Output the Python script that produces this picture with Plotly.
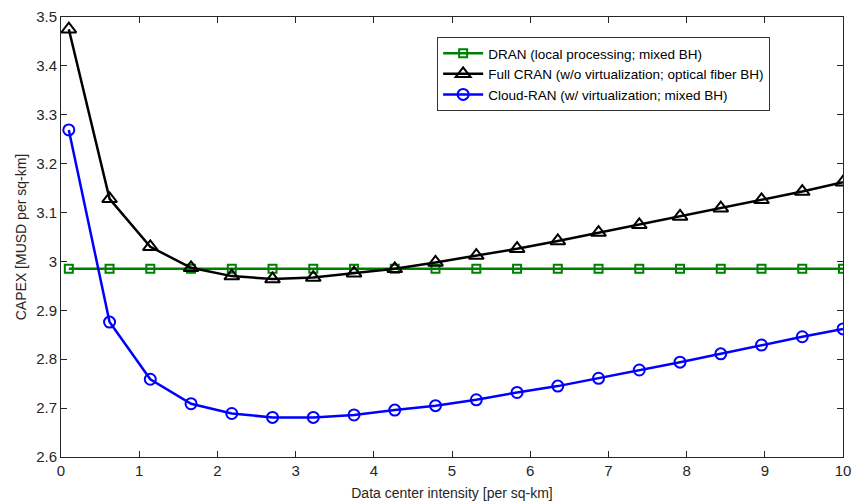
import plotly.graph_objects as go

x_vals = [0.1, 0.621, 1.142, 1.663, 2.184, 2.705, 3.226, 3.747, 4.268, 4.789,
          5.311, 5.832, 6.353, 6.874, 7.395, 7.916, 8.437, 8.958, 9.479, 10.0]

dran = [2.985] * 20
full_cran = [3.475, 3.128, 3.030, 2.987, 2.970, 2.964, 2.967, 2.976, 2.985, 2.998,
             3.012, 3.026, 3.042, 3.059, 3.075, 3.092, 3.109, 3.126, 3.143, 3.162]
cloud_ran = [3.269, 2.876, 2.759, 2.709, 2.689, 2.681, 2.681, 2.686, 2.696, 2.705,
             2.717, 2.732, 2.745, 2.761, 2.778, 2.794, 2.811, 2.829, 2.846, 2.862]

names = ["DRAN (local processing; mixed BH)",
         "Full CRAN (w/o virtualization; optical fiber BH)",
         "Cloud-RAN (w/ virtualization; mixed BH)"]

x_ticks = [0, 1, 2, 3, 4, 5, 6, 7, 8, 9, 10]
y_ticks = [2.6, 2.7, 2.8, 2.9, 3.0, 3.1, 3.2, 3.3, 3.4, 3.5]
y_tick_text = ["2.6", "2.7", "2.8", "2.9", "3", "3.1", "3.2", "3.3", "3.4", "3.5"]

fig = go.Figure()
fig.add_trace(go.Scatter(x=x_vals, y=dran, name=names[0], mode="lines+markers",
                         line=dict(color="#008000", width=2.5),
                         marker=dict(symbol="square-open", size=8, color="#008000",
                                     line=dict(width=2, color="#008000"))))
fig.add_trace(go.Scatter(x=x_vals, y=full_cran, name=names[1], mode="lines+markers",
                         line=dict(color="#000000", width=2.5),
                         marker=dict(symbol="triangle-up-open", size=13, color="#000000",
                                     line=dict(width=2, color="#000000"))))
fig.add_trace(go.Scatter(x=x_vals, y=cloud_ran, name=names[2], mode="lines+markers",
                         line=dict(color="#0000FF", width=2.5),
                         marker=dict(symbol="circle-open", size=11, color="#0000FF",
                                     line=dict(width=2, color="#0000FF"))))

axis_common = dict(showline=True, linecolor="#262626", linewidth=1, mirror="ticks",
                   ticks="inside", ticklen=6, tickcolor="#262626", showgrid=False,
                   zeroline=False, automargin=False,
                   tickfont=dict(family="Liberation Sans, Arial", size=15, color="#262626"))

fig.update_layout(
    width=852, height=503,
    margin=dict(l=61, r=9, t=17, b=46),
    paper_bgcolor="white", plot_bgcolor="white",
    font=dict(family="Liberation Sans, Arial", color="#262626"),
    xaxis=dict(range=[0, 10], tickvals=x_ticks,
               title=dict(text="Data center intensity [per sq-km]", font=dict(size=14), standoff=10),
               **axis_common),
    yaxis=dict(range=[2.6, 3.5], tickvals=y_ticks, ticktext=y_tick_text,
               title=dict(text="CAPEX [MUSD per sq-km]", font=dict(size=14), standoff=6),
               **axis_common),
    legend=dict(x=0.481, y=0.9545, xanchor="left", yanchor="top",
                bgcolor="white", bordercolor="#333333", borderwidth=1,
                font=dict(size=13.5, color="#000000"), tracegroupgap=0, itemwidth=40),
    showlegend=True,
)

fig.write_html("out.html", config={"displayModeBar": False},
               post_script="document.body.style.margin='0';")
